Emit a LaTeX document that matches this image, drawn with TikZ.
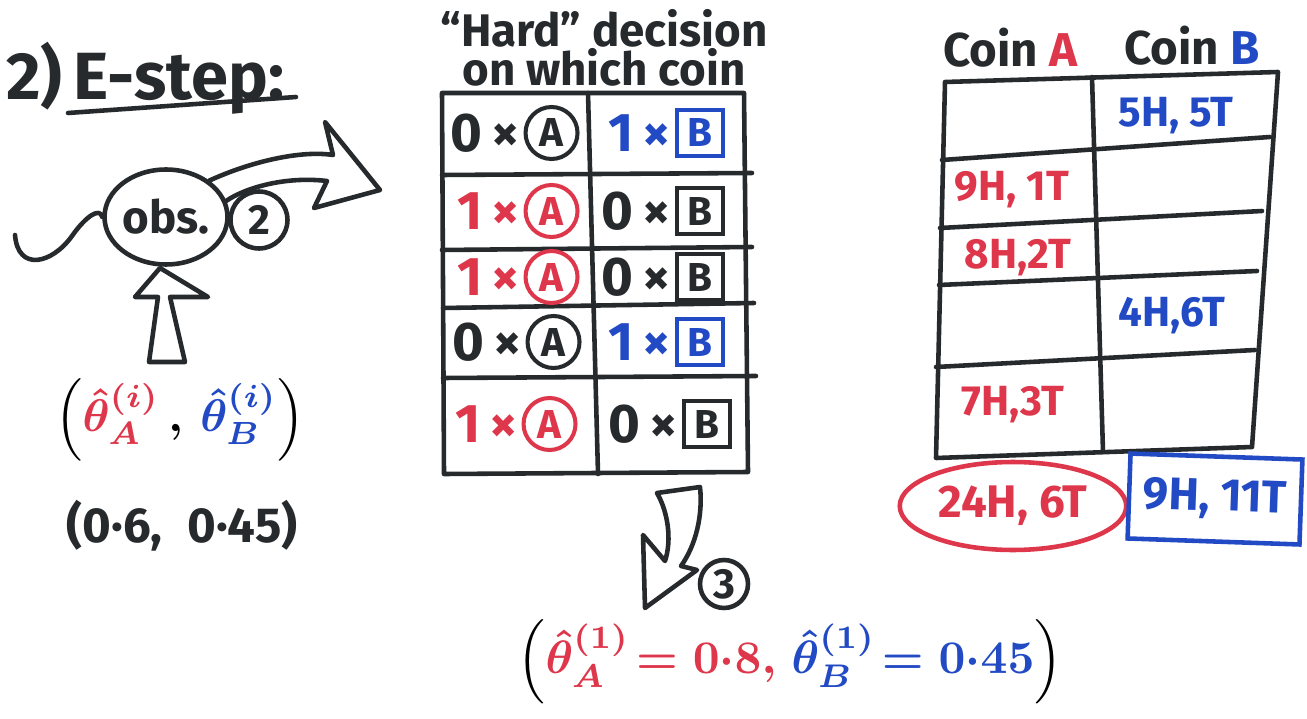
\documentclass[tikz,border=0pt]{standalone}
\usepackage{fontspec}
\setmainfont{Fira Sans}
\usepackage{amsmath}
\usepackage{graphicx}
\usetikzlibrary{shapes.geometric,positioning}
\definecolor{ink}{RGB}{38,42,44}
\definecolor{pred}{RGB}{222,54,74}
\definecolor{pblue}{RGB}{34,74,196}
\tikzset{
  pen/.style={line width=2.6pt, line cap=round, line join=round, draw=ink},
  cellfont/.style={font=\fontsize{31}{33}\selectfont\bfseries, inner sep=0pt},
  circA/.style={circle, draw, line width=2.3pt, minimum size=1.04cm, inner sep=0pt, font=\fontsize{23}{25}\selectfont\bfseries},
  boxB/.style={rectangle, draw, line width=2.3pt, minimum size=0.92cm, inner sep=0pt, font=\fontsize{23}{25}\selectfont\bfseries},
  tallyfont/.style={font=\fontsize{24}{26}\selectfont\bfseries, inner sep=0pt},
}
\newcommand\cellA[4]{% name, position, colour, count
  \node[cellfont, text=#3, anchor=east] (#1n) at (#2) {#4\,×};
  \node[circA, draw=#3, text=#3, right=2pt of #1n] (#1) {A};}
\newcommand\cellB[4]{%
  \node[cellfont, text=#3, anchor=east] (#1n) at (#2) {#4\,×};
  \node[boxB, draw=#3, text=#3, right=2pt of #1n] (#1) {B};}
\begin{document}
\begin{tikzpicture}[x=0.02cm, y=-0.02cm]
\useasboundingbox (0,0) rectangle (1307,719);
\fill[white] (0,0) rectangle (1307,719);

% ---- title
\node[anchor=west, text=ink, font=\fontsize{38}{42}\selectfont\bfseries, inner sep=0pt] (estep) at (6,78) {2)\,E-step:};
\draw[pen] (68,113) -- (296,97);

% ---- observation
\node[ellipse, pen, minimum width=2.04cm, minimum height=1.9cm, inner sep=0pt, text=ink,
      font=\fontsize{26}{28}\selectfont\bfseries] (obs) at (166,217) {obs.};
\draw[pen] (15,235) .. controls (18,272) and (52,264) .. (72,236)
           .. controls (86,216) and (100,207) .. (obs.west);
\node[circle, pen, minimum size=1.14cm, inner sep=0pt, text=ink,
      font=\fontsize{24}{26}\selectfont\bfseries] (two) at (259,220) {2};
% big arrow from obs to the table
\draw[pen] (obs.40) .. controls (250,162) and (300,150) .. (333,155)
   -- (325,122) -- (380,190) -- (314,208) -- (327,181)
   .. controls (285,176) and (245,188) .. (obs.15);

% ---- parameters feeding obs
\node[inner sep=0pt] (theta) at (180,420)
  {\resizebox{142pt}{!}{\boldmath$\Bigl(\textcolor{pred}{\hat\theta_A^{(i)}}\,,\,\textcolor{pblue}{\hat\theta_B^{(i)}}\Bigr)$}};
\draw[pen] (135,297) -- (160,268) -- (208,297) -- (170,297) -- (185,362) -- (149,362) -- (158,297) -- cycle;
\node[text=ink, font=\fontsize{28}{30}\selectfont\bfseries, inner sep=0pt] (init) at (182,526) {(0·6,\; 0·45)};

% ---- hard decision table
\node[text=ink, align=center, font=\fontsize{26}{19}\selectfont\bfseries, inner sep=0pt] (hard) at (604,48)
  {“Hard” decision\\ on which coin};
\coordinate (h00) at (442,93);  \coordinate (h01) at (588,93);  \coordinate (h02) at (744,93);
\coordinate (h50) at (444,474); \coordinate (h51) at (598,474); \coordinate (h52) at (748,472);
\draw[pen] (h00) -- (h02) -- (h52) -- (h50) -- cycle;
\draw[pen] (h01) -- (h51);
\draw[pen] (442,175) -- (752,173);
\draw[pen] (442,250) -- (752,247);
\draw[pen] (443,308) -- (754,303);
\draw[pen] (443,378) -- (756,376);

\cellA{a1}{520,133}{ink}{0}   \cellB{b1}{671,133}{pblue}{1}
\cellA{a2}{520,211}{pred}{1}  \cellB{b2}{671,211}{ink}{0}
\cellA{a3}{520,277}{pred}{1}  \cellB{b3}{671,277}{ink}{0}
\cellA{a4}{522,342}{ink}{0}   \cellB{b4}{671,342}{pblue}{1}
\cellA{a5}{518,424}{pred}{1}  \cellB{b5}{678,424}{ink}{0}

% ---- tallies table
\node[text=ink, font=\fontsize{27}{30}\selectfont\bfseries, inner sep=0pt] (hA) at (1010,48) {Coin \textcolor{pred}{A}};
\node[text=ink, font=\fontsize{27}{30}\selectfont\bfseries, inner sep=0pt] (hB) at (1192,46) {Coin \textcolor{pblue}{B}};
\coordinate (t00) at (945,82);  \coordinate (t01) at (1092,77); \coordinate (t02) at (1278,72);
\coordinate (t50) at (936,458); \coordinate (t51) at (1103,452); \coordinate (t52) at (1252,447);
\draw[pen] (t00) -- (t02) -- (t52) -- (t50) -- cycle;
\draw[pen] (t01) -- (t51);
\draw[pen] (942,160) -- (1270,137);
\draw[pen] (940,228) -- (1262,211);
\draw[pen] (939,285) -- (1257,271);
\draw[pen] (936,367) -- (1255,350);

\node[tallyfont, text=pblue] (r1) at (1176,116) {5H, 5T};
\node[tallyfont, text=pred]  (r2) at (1012,190) {9H, 1T};
\node[tallyfont, text=pred]  (r3) at (1018,258) {8H,2T};
\node[tallyfont, text=pblue] (r4) at (1172,316) {4H,6T};
\node[tallyfont, text=pred]  (r5) at (1013,405) {7H,3T};

\node[ellipse, draw=pred, line width=2.6pt, minimum width=4.4cm, minimum height=1.76cm,
      text=pred, font=\fontsize{26}{28}\selectfont\bfseries] (sumA) at (1013,506) {24H, 6T};
\node[rectangle, draw=pblue, line width=2.6pt, minimum width=3.44cm, minimum height=1.7cm,
      text=pblue, font=\fontsize{26}{28}\selectfont\bfseries, rotate=-2] (sumB) at (1215,499) {9H, 11T};

% ---- M-step arrow and result
\draw[pen] (657,493) -- (700,487)
   .. controls (703,515) and (696,545) .. (681,566) -- (697,570) -- (645,608) -- (643,535) -- (665,561)
   .. controls (672,540) and (668,512) .. cycle;
\node[circle, pen, minimum size=0.96cm, inner sep=0pt, text=ink,
      font=\fontsize{24}{26}\selectfont\bfseries] (three) at (724,584) {3};
\node[inner sep=0pt] (result) at (790,662)
  {\resizebox{310pt}{!}{\boldmath$\Bigl(\textcolor{pred}{\hat\theta_A^{(1)}\!=0{\cdot}8,}\;\textcolor{pblue}{\hat\theta_B^{(1)}\!=0{\cdot}45}\Bigr)$}};
\end{tikzpicture}
\end{document}
